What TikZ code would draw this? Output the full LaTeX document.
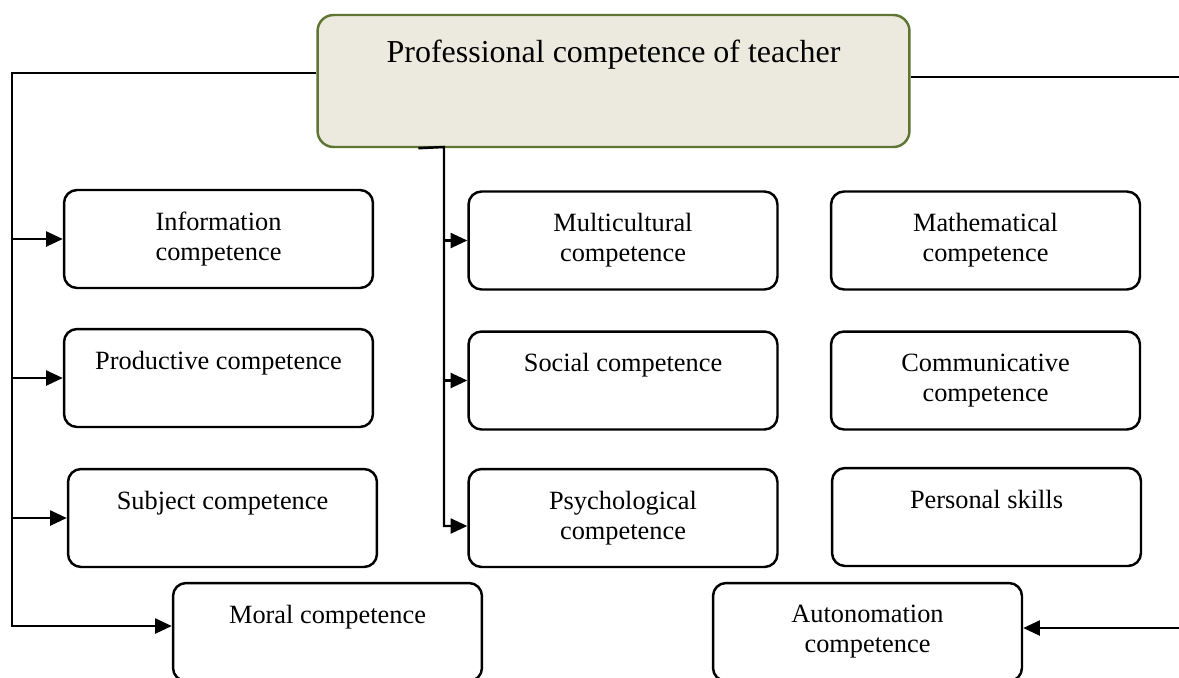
\documentclass[tikz,border=0pt]{standalone}
\usepackage{fontspec}
\setmainfont{Liberation Serif}
\usetikzlibrary{arrows.meta,calc}
\definecolor{boxfill}{RGB}{236,234,223}
\definecolor{boxline}{RGB}{95,117,50}

\begin{document}
\begin{tikzpicture}[x=0.02cm,y=-0.02cm,line width=1.4pt,
	>={Triangle[length=9.5pt,width=8.5pt]},
	comp/.style={draw,rounded corners=2.6mm,minimum width=6.18cm,minimum height=1.96cm,
		align=center,inner sep=0pt,font=\fontsize{15}{17.1}\selectfont},
	oneline/.style={text height=10.5pt,text depth=20.7pt},
	main/.style={draw=boxline,fill=boxfill,rounded corners=3.2mm,minimum width=11.84cm,
		minimum height=2.64cm,inner sep=0pt,font=\fontsize{18.2}{21}\selectfont,
		text height=12.7pt,text depth=34.3pt}]
	\useasboundingbox (0,0) rectangle (1179,677);

	\node[main] (top) at (613.5,81) {Professional competence of teacher};

	\node[comp] (info) at (218.5,239) {Information\\competence};
	\node[comp,oneline] (prod) at (218.5,378) {Productive competence};
	\node[comp,oneline] (subj) at (222.5,518) {Subject competence};
	\node[comp] (multi) at (623,240.5) {Multicultural\\competence};
	\node[comp,oneline] (social) at (623,380.5) {Social competence};
	\node[comp] (psych) at (623,518) {Psychological\\competence};
	\node[comp] (math) at (985.5,240.5) {Mathematical\\competence};
	\node[comp] (comm) at (985.5,380.5) {Communicative\\competence};
	\node[comp,oneline] (pers) at (986.5,517) {Personal skills};
	\node[comp,oneline] (moral) at (327.5,632) {Moral competence};
	\node[comp] (auto) at (867.5,632) {Autonomation\\competence};

	% left branch
	\coordinate (lbot) at (12,626);
	\draw[->] ($(top.west)+(0,-8)$) -| (lbot) -- (lbot -| moral.west);
	\foreach \n in {info,prod,subj}
		\draw[->] (lbot |- \n.west) -- (\n.west);

	% middle branch
	\coordinate (mtop) at (444,147);
	\draw[->] ($(top.south west)+(102,0)$) -- (mtop) |- ($(psych.west)+(0,8)$);
	\foreach \n in {multi,social}
		\draw[->] (mtop |- \n.west) -- (\n.west);

	% right branch
	\coordinate (rbot) at (1183,628);
	\draw[->] ($(top.east)+(0,-4)$) -| (rbot) -- (rbot -| auto.east);
\end{tikzpicture}
\end{document}
